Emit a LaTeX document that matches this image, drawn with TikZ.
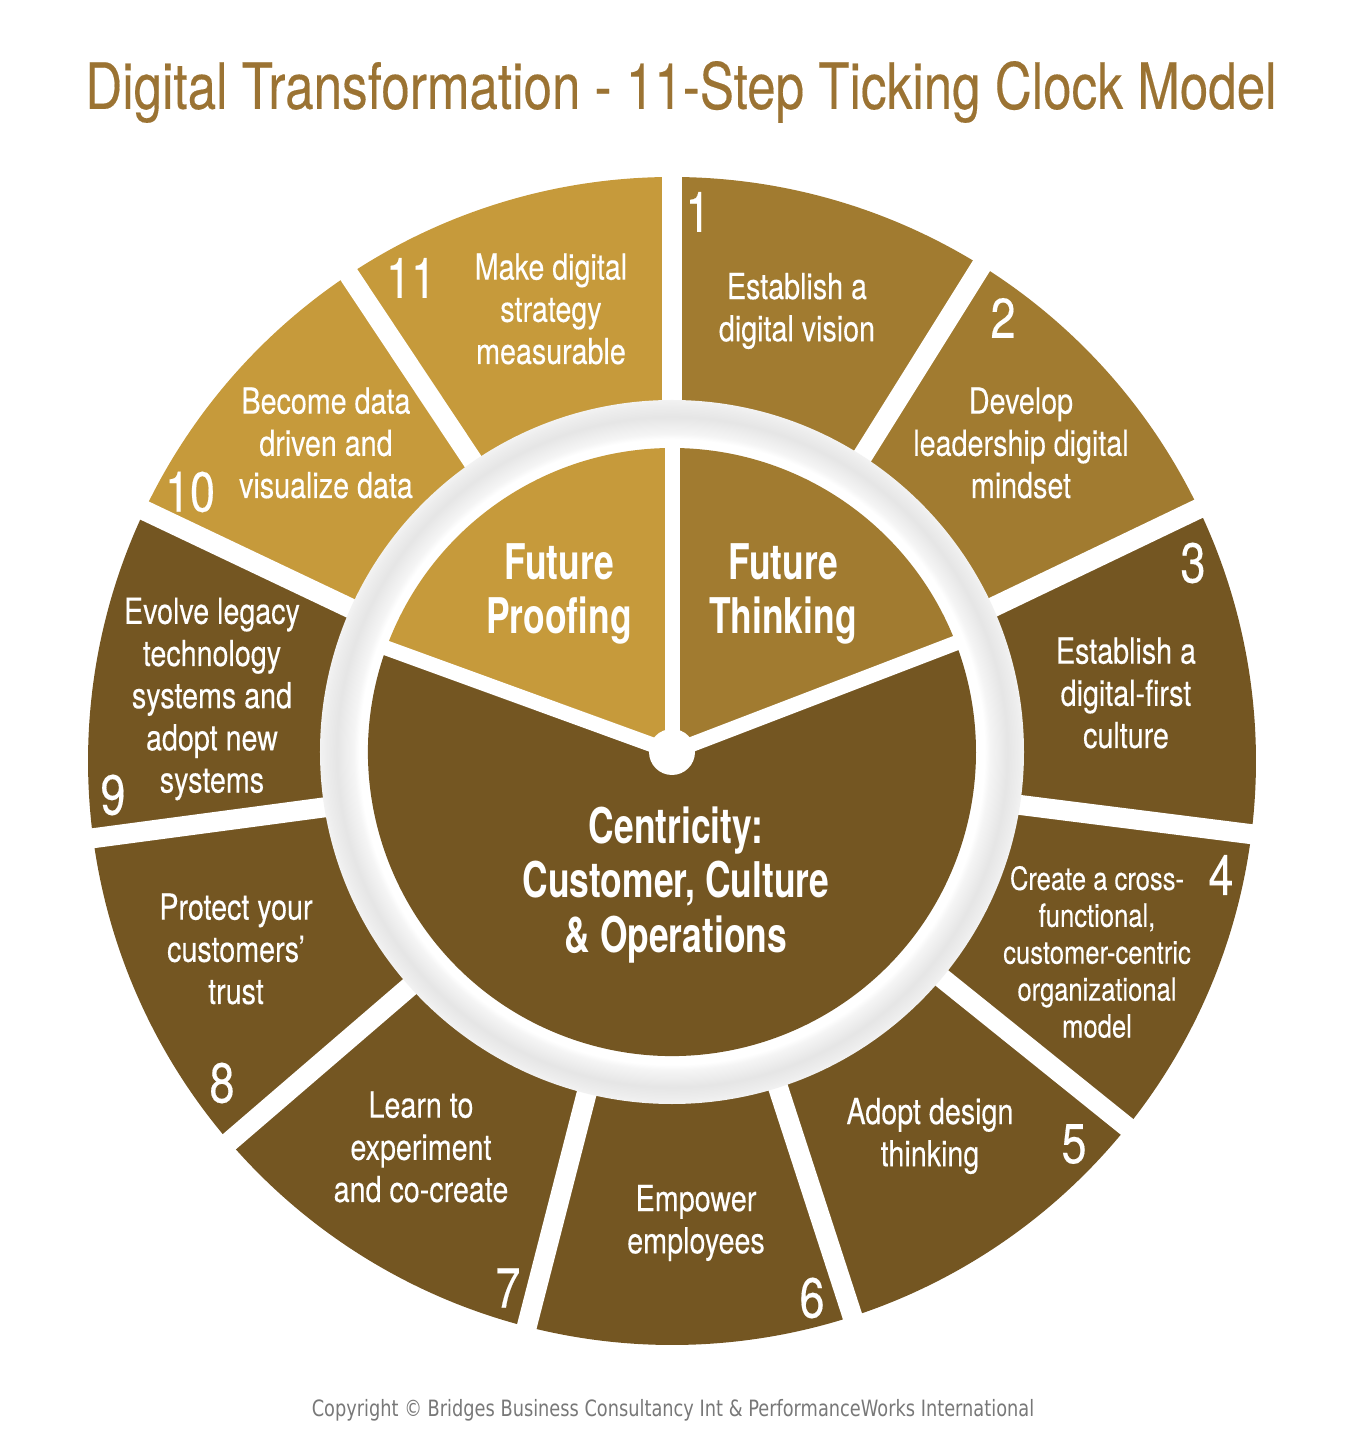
\documentclass[tikz,border=0pt]{standalone}
\usepackage{fontspec}
\usetikzlibrary{calc}
\setmainfont{TeX Gyre Heros}[FakeStretch=0.8,FakeBold=0.25]
\newfontfamily\hubfont{TeX Gyre Heros}[FakeStretch=0.72]
\newfontfamily\notefont{DejaVu Sans}[FakeStretch=0.79]

\definecolor{lightgold}{RGB}{198,154,59}
\definecolor{midgold}{RGB}{161,123,48}
\definecolor{darkbrown}{RGB}{116,86,34}
\definecolor{titlebrown}{RGB}{155,115,51}
\definecolor{notegray}{RGB}{120,120,120}

\pgfdeclareradialshading{ringshade}{\pgfpoint{0bp}{0bp}}{color(0bp)=(white); color(22.2bp)=(white); color(22.6bp)=(black!4); color(23.8bp)=(black!10); color(24.6bp)=(black!7); color(25bp)=(black!5); color(50bp)=(black!5)}

\begin{document}
\begin{tikzpicture}[x=0.1mm,y=0.1mm,
  gapline/.style={white,line width=2mm},
  hubline/.style={white,line width=1.5mm},
  steptext/.style={text=white,align=center,inner sep=0pt,font=\fontsize{10.2}{12}\selectfont},
  stepnum/.style={text=white,inner sep=0pt,font=\fontsize{16}{16}\selectfont},
  hubtext/.style={text=white,align=center,inner sep=0pt,font=\hubfont\bfseries\fontsize{14}{15.2}\selectfont}]

\useasboundingbox (-672,-702) rectangle (692,752);
\coordinate (c) at (0,0);
\coordinate (w) at (0,-9);

\node[text=titlebrown,font=\fontsize{18.2}{20}\selectfont] (title) at (9,660) {Digital Transformation - 11-Step Ticking Clock Model};

\foreach \a/\b/\col in {90/58/midgold,58/25.6/midgold,25.6/-7.2/darkbrown,-7.2/-38.8/darkbrown,-38.8/-72/darkbrown,-72/-104.4/darkbrown,-104.4/-139.3/darkbrown,-139.3/-172.4/darkbrown,-172.4/-205.4/darkbrown,-205.4/-236.4/lightgold,-236.4/-270/lightgold}
  \fill[\col] ($(w)+(\a:340)$) arc[start angle=\a, end angle=\b, radius=340]
    -- ($(w)+(\b:584)$) arc[start angle=\b, end angle=\a, radius=584] -- cycle;
\foreach \a in {90,58,25.6,-7.2,-38.8,-72,-104.4,-139.3,-172.4,-205.4,-236.4}
  \draw[gapline] (w) -- ($(w)+(\a:600)$);

\shade[shading=ringshade] (c) circle[radius=352];

\fill[lightgold] (c) -- (90:304) arc[start angle=90, end angle=160, radius=304] -- cycle;
\fill[midgold] (c) -- (21:304) arc[start angle=21, end angle=90, radius=304] -- cycle;
\fill[darkbrown] (c) -- (160:304) arc[start angle=160, end angle=381, radius=304] -- cycle;
\foreach \a in {90,160,21}
  \draw[hubline] (c) -- (\a:306);
\fill[white] (c) circle[radius=23];

\node[stepnum] (n1) at (26,540) {1};
\node[steptext] (s1) at (125,441) {Establish a\\digital vision};
\node[stepnum] (n2) at (331,434) {2};
\node[steptext] (s2) at (349,309) {Develop\\leadership digital\\mindset};
\node[stepnum] (n3) at (521,189) {3};
\node[steptext] (s3) at (454,59) {Establish a\\digital-first\\culture};
\node[stepnum] (n4) at (549,-123) {4};
\node[steptext,font=\fontsize{9.1}{10.5}\selectfont] (s4) at (425,-200) {Create a cross-\\functional,\\customer-centric\\organizational\\model};
\node[stepnum] (n5) at (402,-392) {5};
\node[steptext] (s5) at (258,-384) {Adopt design\\thinking};
\node[stepnum] (n6) at (140,-546) {6};
\node[steptext] (s6) at (24,-471) {Empower\\employees};
\node[stepnum] (n7) at (-164,-536) {7};
\node[steptext] (s7) at (-251,-395) {Learn to\\experiment\\and co-create};
\node[stepnum] (n8) at (-450,-331) {8};
\node[steptext] (s8) at (-436,-197) {Protect your\\customers’\\trust};
\node[stepnum] (n9) at (-559,-43) {9};
\node[steptext] (s9) at (-460,53) {Evolve legacy\\technology\\systems and\\adopt new\\systems};
\node[stepnum] (n10) at (-482,260) {10};
\node[steptext] (s10) at (-346,309) {Become data\\driven and\\visualize data};
\node[stepnum] (n11) at (-261,474) {11};
\node[steptext] (s11) at (-121,443) {Make digital\\strategy\\measurable};

\node[hubtext] (proof) at (-113,158) {Future\\Proofing};
\node[hubtext] (think) at (111,158) {Future\\Thinking};
\node[hubtext,font=\hubfont\bfseries\fontsize{14}{15.6}\selectfont] (centre) at (4,-133) {Centricity:\\Customer, Culture\\\& Operations};

\node[text=notegray,font=\notefont\fontsize{6.4}{7}\selectfont] (copy) at (1,-658) {Copyright © Bridges Business Consultancy Int \& PerformanceWorks International};
\end{tikzpicture}
\end{document}
